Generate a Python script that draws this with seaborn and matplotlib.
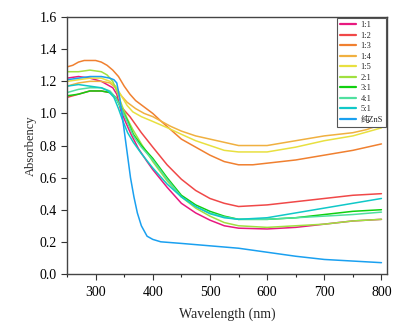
import matplotlib
matplotlib.use("Agg")
import matplotlib.pyplot as plt
import seaborn as sns
import pandas as pd
from matplotlib.ticker import MultipleLocator, FormatStrFormatter

sns.set_theme(style="ticks")
plt.rcParams['font.family'] = ['Liberation Serif', 'Noto Sans CJK SC']

labels = ["1:1", "1:2", "1:3", "1:4", "1:5", "2:1", "3:1", "4:1", "5:1", "纯ZnS"]
colors = ["#e8197f", "#f04848", "#f08030", "#f0b040", "#e8e040",
          "#a0e040", "#10d010", "#50e0a0", "#10c8c8", "#1aa0f0"]

wl_1_1 = [250, 270, 290, 310, 320, 330, 337, 344, 352, 362, 375, 390, 400, 425, 450, 475, 500, 525, 550, 600, 650, 700, 750, 800]
ab_1_1 = [1.22, 1.23, 1.22, 1.20, 1.18, 1.16, 1.12, 1.02, 0.95, 0.87, 0.78, 0.70, 0.65, 0.54, 0.44, 0.38, 0.335, 0.30, 0.285, 0.28, 0.29, 0.31, 0.33, 0.34]

wl_1_2 = [250, 270, 290, 310, 325, 335, 345, 360, 380, 400, 425, 450, 475, 500, 525, 550, 600, 650, 700, 750, 800]
ab_1_2 = [1.10, 1.12, 1.14, 1.14, 1.13, 1.10, 1.04, 0.98, 0.88, 0.79, 0.68, 0.59, 0.52, 0.47, 0.44, 0.42, 0.43, 0.45, 0.47, 0.49, 0.50]

wl_1_3 = [250, 260, 270, 280, 300, 310, 320, 330, 340, 350, 360, 370, 385, 400, 415, 431, 450, 475, 500, 525, 550, 575, 600, 650, 700, 750, 800]
ab_1_3 = [1.29, 1.30, 1.32, 1.33, 1.33, 1.32, 1.30, 1.27, 1.23, 1.17, 1.12, 1.08, 1.04, 1.00, 0.95, 0.90, 0.84, 0.79, 0.74, 0.70, 0.68, 0.68, 0.69, 0.71, 0.74, 0.77, 0.81]

wl_1_4 = [250, 270, 290, 310, 325, 335, 345, 355, 370, 385, 400, 431, 450, 475, 500, 525, 550, 600, 650, 700, 750, 775, 790, 800]
ab_1_4 = [1.17, 1.19, 1.20, 1.20, 1.19, 1.16, 1.11, 1.07, 1.03, 1.00, 0.98, 0.92, 0.89, 0.86, 0.84, 0.82, 0.80, 0.80, 0.83, 0.86, 0.88, 0.90, 0.92, 0.92]

wl_1_5 = [250, 270, 290, 310, 325, 335, 345, 355, 365, 380, 400, 426, 450, 475, 500, 525, 550, 600, 650, 700, 750, 800]
ab_1_5 = [1.20, 1.21, 1.22, 1.22, 1.20, 1.17, 1.11, 1.05, 1.01, 0.98, 0.95, 0.91, 0.87, 0.83, 0.80, 0.77, 0.76, 0.76, 0.79, 0.83, 0.86, 0.91]

wl_2_1 = [250, 270, 290, 310, 320, 330, 338, 346, 355, 365, 380, 400, 425, 450, 475, 500, 525, 550, 600, 650, 700, 750, 800]
ab_2_1 = [1.26, 1.26, 1.27, 1.26, 1.24, 1.20, 1.13, 1.05, 0.97, 0.90, 0.81, 0.70, 0.58, 0.48, 0.41, 0.36, 0.32, 0.30, 0.29, 0.30, 0.31, 0.33, 0.34]

wl_3_1 = [250, 270, 290, 310, 325, 335, 345, 355, 366, 380, 400, 425, 450, 475, 500, 525, 550, 600, 650, 700, 750, 800]
ab_3_1 = [1.11, 1.12, 1.14, 1.14, 1.13, 1.10, 1.03, 0.96, 0.87, 0.80, 0.72, 0.60, 0.49, 0.43, 0.39, 0.36, 0.34, 0.34, 0.35, 0.37, 0.39, 0.40]

wl_4_1 = [250, 270, 290, 310, 325, 335, 345, 355, 366, 380, 400, 425, 450, 475, 500, 525, 550, 600, 650, 700, 750, 800]
ab_4_1 = [1.13, 1.15, 1.16, 1.16, 1.14, 1.10, 1.03, 0.95, 0.86, 0.79, 0.71, 0.59, 0.48, 0.42, 0.38, 0.355, 0.34, 0.34, 0.35, 0.36, 0.37, 0.385]

wl_5_1 = [250, 270, 290, 310, 322, 332, 340, 348, 356, 366, 380, 400, 425, 450, 475, 500, 525, 550, 600, 650, 700, 750, 800]
ab_5_1 = [1.17, 1.18, 1.17, 1.16, 1.14, 1.10, 1.03, 0.95, 0.88, 0.82, 0.75, 0.66, 0.56, 0.48, 0.42, 0.375, 0.35, 0.34, 0.35, 0.38, 0.41, 0.44, 0.47]

wl_zns = [250, 270, 290, 310, 325, 332, 337, 342, 349, 355, 361, 367, 373, 380, 390, 400, 414, 450, 500, 550, 600, 650, 700, 750, 800]
ab_zns = [1.21, 1.22, 1.23, 1.23, 1.22, 1.21, 1.19, 1.10, 0.92, 0.76, 0.60, 0.48, 0.38, 0.30, 0.235, 0.215, 0.20, 0.19, 0.175, 0.16, 0.135, 0.11, 0.09, 0.08, 0.07]

series = [(wl_1_1, ab_1_1), (wl_1_2, ab_1_2), (wl_1_3, ab_1_3), (wl_1_4, ab_1_4),
          (wl_1_5, ab_1_5), (wl_2_1, ab_2_1), (wl_3_1, ab_3_1), (wl_4_1, ab_4_1),
          (wl_5_1, ab_5_1), (wl_zns, ab_zns)]

rows = []
for lab, (w, a) in zip(labels, series):
    for x, y in zip(w, a):
        rows.append({"Wavelength": x, "Absorbency": y, "Sample": lab})
df = pd.DataFrame(rows)

fig = plt.figure(figsize=(4.19, 3.30), dpi=100)
ax = fig.add_axes([0.160, 0.170, 0.764, 0.778])
sns.lineplot(data=df, x="Wavelength", y="Absorbency", hue="Sample",
             hue_order=labels, palette=colors, estimator=None, lw=1.1, ax=ax)

ax.set_xlim(250, 810)
ax.set_ylim(0, 1.6)
ax.set_xticks([300, 400, 500, 600, 700, 800])
ax.xaxis.set_minor_locator(MultipleLocator(50))
ax.yaxis.set_major_locator(MultipleLocator(0.2))
ax.yaxis.set_major_formatter(FormatStrFormatter('%.1f'))
ax.tick_params(axis='both', which='major', direction='out', length=4, width=0.8,
               labelsize=10, colors='#333333', labelcolor='black')
ax.tick_params(axis='x', which='minor', direction='out', length=2.5, width=0.8)
ax.tick_params(axis='x', pad=5)
for s in ax.spines.values():
    s.set_linewidth(1.0)
    s.set_color('#444444')
    s.set_visible(True)

ax.set_xlabel("Wavelength (nm)", fontsize=10, labelpad=6)
ax.set_ylabel("Absorbency", fontsize=9, labelpad=2)

leg = ax.legend(loc="upper right", fontsize=6, frameon=True, fancybox=False,
                edgecolor='#555555', framealpha=1, handlelength=2.0,
                handletextpad=0.5, labelspacing=0.3, borderpad=0.35,
                borderaxespad=0.15)
leg.get_frame().set_linewidth(0.8)
for line in leg.get_lines():
    line.set_linewidth(1.6)

fig.savefig("out.png", dpi=100)
